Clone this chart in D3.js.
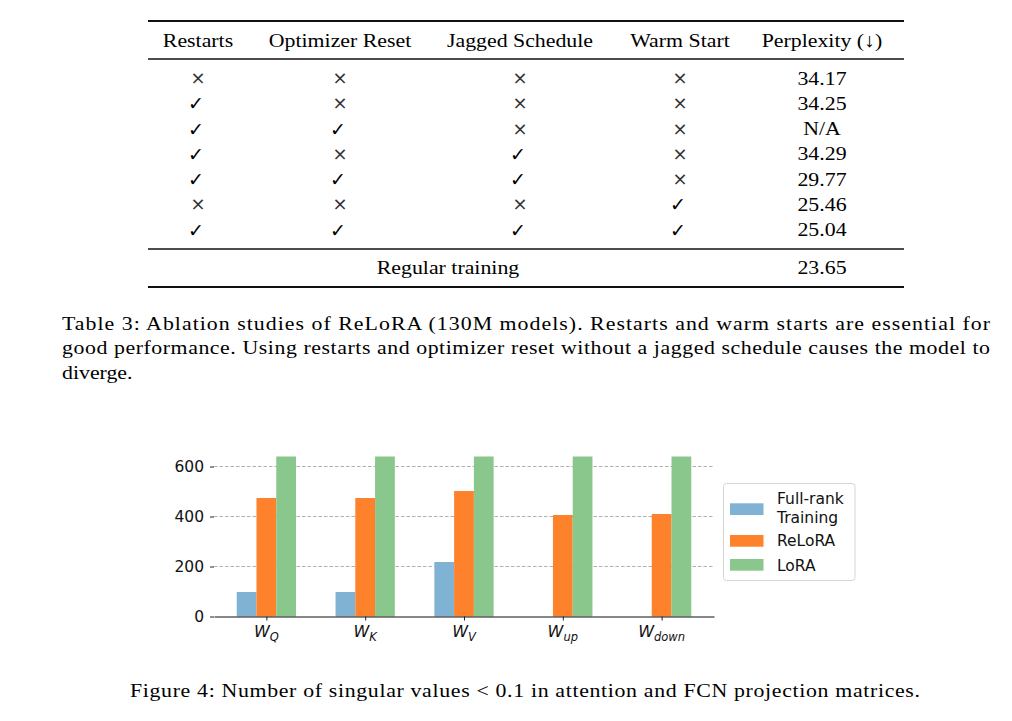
<!DOCTYPE html>
<html>
<head>
<meta charset="utf-8">
<script src="https://cdn.jsdelivr.net/npm/d3@7"></script>
<style>
  html, body { margin: 0; padding: 0; background: #fff; }
  svg { display: block; }
  .sym { opacity: 0.995; }
</style>
</head>
<body>
<svg id="page" width="1012" height="721"></svg>
<script>
// ---------------- DATA ----------------
// Table 3
const tableHeaders = ["Restarts", "Optimizer Reset", "Jagged Schedule", "Warm Start", "Perplexity (↓)"];
const restarts       = [0, 1, 1, 1, 1, 0, 1];
const optimizerReset = [0, 0, 1, 0, 1, 0, 1];
const jaggedSchedule = [0, 0, 0, 1, 1, 0, 1];
const warmStart      = [0, 0, 0, 0, 0, 1, 1];
const perplexity     = ["34.17", "34.25", "N/A", "34.29", "29.77", "25.46", "25.04"];
const regularLabel   = "Regular training";
const regularValue   = "23.65";
const tableCaption = [
  "Table 3: Ablation studies of ReLoRA (130M models).  Restarts and warm starts are essential for",
  "good performance. Using restarts and optimizer reset without a jagged schedule causes the model to",
  "diverge."
];

// Figure 4
const categories = ["Q", "K", "V", "up", "down"];          // subscripts of W
const seriesNames = ["Full-rank Training", "ReLoRA", "LoRA"];
const fullRank = [98, 98, 218, 0, 0];
const relora   = [474, 474, 502, 406, 410];
const lora     = [640, 640, 640, 640, 640];
const yTicks   = [0, 200, 400, 600];
const figCaption = "Figure 4: Number of singular values < 0.1 in attention and FCN projection matrices.";

// ---------------- STYLE ----------------
const colors = ["#80b2d4", "#fe812c", "#8ac78c"];
const SERIF = "'Liberation Serif', 'Times New Roman', serif";
const SANS = "'DejaVu Sans', sans-serif";
const FS = 19.5, SX = 1.12;

const svg = d3.select("#page");

function serif(g, str, x, y, anchor) {
  return g.append("text")
    .attr("transform", `translate(${x},${y}) scale(${SX},1)`)
    .attr("text-anchor", anchor)
    .style("font-family", SERIF)
    .style("font-size", FS + "px")
    .attr("fill", "#000")
    .text(str);
}

// ---------------- TABLE ----------------
const tbl = svg.append("g");
const ruleX0 = 148, ruleX1 = 904;
const colX = d3.scaleOrdinal().domain(d3.range(5)).range([198, 340, 520, 680, 822]);
const rowY = d3.scaleLinear().domain([0, 6]).range([84.5, 236]);

function rule(y, w) {
  tbl.append("line").attr("x1", ruleX0).attr("x2", ruleX1).attr("y1", y).attr("y2", y)
    .attr("stroke", "#111").attr("stroke-width", w);
}
rule(21, 2);
rule(59, 1.3);
rule(249, 1.3);
rule(287, 2);

tableHeaders.forEach((h, i) => serif(tbl, h, colX(i), 46.5, "middle"));

const flagCols = [restarts, optimizerReset, jaggedSchedule, warmStart];
flagCols.forEach((col, ci) => {
  col.forEach((v, ri) => {
    if (v) {
      tbl.append("text").attr("class", "sym").attr("x", Math.round(colX(ci) - 2)).attr("y", Math.round(rowY(ri) + 0.5))
        .attr("text-anchor", "middle")
        .style("font-family", SANS).style("font-size", "19px").attr("fill", "#000")
        .text("✓");
    } else {
      tbl.append("text").attr("class", "sym").attr("x", Math.round(colX(ci))).attr("y", Math.round(rowY(ri) - 0.5))
        .attr("text-anchor", "middle")
        .style("font-family", SANS).style("font-size", "18px").attr("fill", "#333")
        .text("×");
    }
  });
});
perplexity.forEach((p, ri) => serif(tbl, p, colX(4), rowY(ri), "middle"));
serif(tbl, regularLabel, 448, 273.5, "middle");
serif(tbl, regularValue, colX(4), 273.5, "middle");

// caption
const capY = [329.5, 354, 378.5];
tableCaption.forEach((line, i) => {
  const t = serif(svg, line, 62, capY[i], "start");
  if (i < 2) t.attr("textLength", 928 / SX).attr("lengthAdjust", "spacing");
});

// ---------------- CHART ----------------
const chart = svg.append("g");
const x = d3.scaleLinear().domain([-0.53, 4.53]).range([214, 714]);
const y = d3.scaleLinear().domain([0, 672]).range([616.5, 448.5]);
const barW = x(0.2) - x(0);
const offsets = [-0.2, 0, 0.2];
const series = [fullRank, relora, lora];

// grid
chart.append("g").selectAll("line").data(yTicks.filter(d => d > 0)).join("line")
  .attr("x1", x.range()[0]).attr("x2", x.range()[1])
  .attr("y1", d => y(d)).attr("y2", d => y(d))
  .attr("stroke", "#b0b0b0").attr("stroke-width", 1).attr("stroke-dasharray", "3.5,2");

// bars
series.forEach((vals, si) => {
  chart.append("g").selectAll("rect").data(vals).join("rect")
    .attr("x", (d, i) => x(i + offsets[si]) - barW / 2)
    .attr("width", barW)
    .attr("y", d => y(d))
    .attr("height", d => y(0) - y(d))
    .attr("fill", colors[si]);
});

// y axis (no spine)
const yAxis = chart.append("g").attr("transform", `translate(${x.range()[0]},0)`)
  .call(d3.axisLeft(y).tickValues(yTicks).tickSize(4).tickPadding(6));
yAxis.select(".domain").remove();
yAxis.selectAll("text").style("font-family", SANS).style("font-size", "15.5px").attr("fill", "#111");
yAxis.selectAll("line").attr("stroke", "#222");

// x axis
const xAxis = chart.append("g").attr("transform", `translate(0,${y(0)})`)
  .call(d3.axisBottom(x).tickValues(d3.range(categories.length)).tickSize(4).tickSizeOuter(0).tickFormat(""));
xAxis.select(".domain").attr("stroke", "#111").attr("stroke-width", 1.1);
xAxis.selectAll("line").attr("stroke", "#222");

// x labels W_sub
categories.forEach((c, i) => {
  const t = chart.append("text").attr("x", x(i)).attr("y", 637)
    .attr("text-anchor", "middle")
    .style("font-family", SANS).style("font-style", "italic").attr("fill", "#111");
  t.append("tspan").style("font-size", "16px").text("W");
  t.append("tspan").style("font-size", "11.5px").attr("dy", 3.5).text(c);
});

// legend
const lg = svg.append("g");
lg.append("rect").attr("x", 723.5).attr("y", 483.5).attr("width", 131.5).attr("height", 97)
  .attr("rx", 3).attr("fill", "#fff").attr("stroke", "#d6d6d6").attr("stroke-width", 1);
const patchY = [503.3, 535, 559];
const labelLines = [["Full-rank", "Training"], ["ReLoRA"], ["LoRA"]];
const labelBase = [504.3, 546, 570.8];
seriesNames.forEach((name, i) => {
  lg.append("rect").attr("x", 730).attr("y", patchY[i]).attr("width", 33.5).attr("height", 11.7)
    .attr("fill", colors[i]);
  labelLines[i].forEach((ln, k) => {
    lg.append("text").attr("x", 777).attr("y", labelBase[i] + k * 19)
      .style("font-family", SANS).style("font-size", "15.5px").attr("fill", "#111").text(ln);
  });
});

// figure caption
serif(svg, figCaption, 130, 696.5, "start").attr("textLength", 790 / SX).attr("lengthAdjust", "spacing");
</script>
</body>
</html>
